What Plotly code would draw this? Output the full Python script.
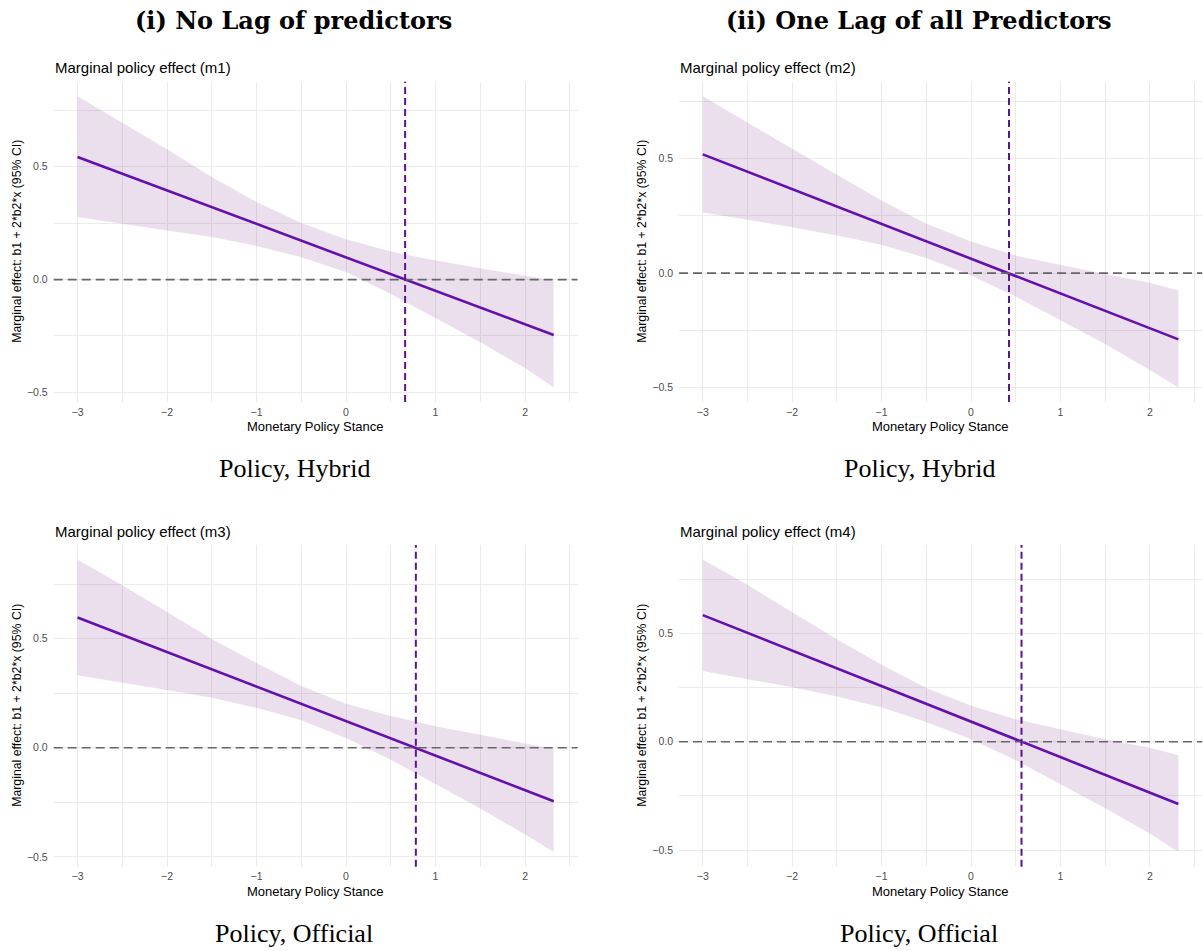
import plotly.graph_objects as go

W, H = 1203, 951

# ---------------- data ----------------
x_grid = [-3, -2.5, -2, -1.5, -1, -0.5, 0, 0.5, 1, 1.5, 2, 2.32]
x_line = [-3, 2.32]

m1_upper = [0.812, 0.694, 0.577, 0.454, 0.343, 0.250, 0.178, 0.124, 0.084, 0.050, 0.019, -0.004]
m1_lower = [0.277, 0.247, 0.217, 0.188, 0.149, 0.099, 0.033, -0.064, -0.170, -0.278, -0.392, -0.478]
m1_line = [0.543, -0.246]
m1_cross = 0.66

m2_upper = [0.773, 0.660, 0.544, 0.430, 0.318, 0.216, 0.138, 0.077, 0.036, -0.003, -0.042, -0.076]
m2_lower = [0.265, 0.233, 0.201, 0.165, 0.124, 0.066, -0.010, -0.102, -0.204, -0.309, -0.423, -0.499]
m2_line = [0.519, -0.289]
m2_cross = 0.425

m3_upper = [0.862, 0.745, 0.622, 0.498, 0.388, 0.283, 0.202, 0.145, 0.098, 0.060, 0.022, -0.005]
m3_lower = [0.332, 0.298, 0.265, 0.229, 0.183, 0.126, 0.045, -0.055, -0.166, -0.278, -0.397, -0.478]
m3_line = [0.597, -0.245]
m3_cross = 0.78

m4_upper = [0.840, 0.724, 0.597, 0.473, 0.355, 0.248, 0.166, 0.104, 0.057, 0.011, -0.028, -0.062]
m4_lower = [0.326, 0.290, 0.251, 0.209, 0.158, 0.091, 0.011, -0.085, -0.194, -0.307, -0.423, -0.509]
m4_line = [0.584, -0.287]
m4_cross = 0.565

panel_titles = ["Marginal policy effect (m1)", "Marginal policy effect (m2)",
                "Marginal policy effect (m3)", "Marginal policy effect (m4)"]
column_headers = ["(i) No Lag of predictors", "(ii) One Lag of all Predictors"]
row_captions = ["Policy, Hybrid", "Policy, Official"]
x_title = "Monetary Policy Stance"
y_title = "Marginal effect: b1 + 2*b2*x (95% CI)"
x_ticks = [-3, -2, -1, 0, 1, 2]
y_ticks = [-0.5, 0.0, 0.5]

# ---------------- styling ----------------
LINE_COL = "#6410AC"
VLINE_COL = "#5A1590"
BAND_COL = "rgba(120,40,140,0.15)"
GRID_COL = "#EBEBEB"
SANS = "Liberation Sans, Arial, sans-serif"
SERIF_B = "DejaVu Serif, serif"
SERIF = "Liberation Serif, serif"


def px(x):
    return x / W


def py(y):
    return 1 - y / H


# pixel boxes of each panel (left, right, top, bottom)
boxes = [
    (53.7, 577.5, 81.7, 402.0),
    (679.0, 1202.2, 81.7, 402.0),
    (53.7, 577.5, 545.0, 866.7),
    (679.0, 1202.2, 545.0, 866.7),
]
ylab_x = [17, 642, 17, 642]
xtitle_cx = [315.6, 940.9, 315.6, 940.9]

panels = [
    (m1_upper, m1_lower, m1_line, m1_cross),
    (m2_upper, m2_lower, m2_line, m2_cross),
    (m3_upper, m3_lower, m3_line, m3_cross),
    (m4_upper, m4_lower, m4_line, m4_cross),
]

fig = go.Figure()
annotations = []
shapes = []

xmin, xmax = min(x_grid), max(x_grid)
xpad = 0.05 * (xmax - xmin)
x_range = [xmin - xpad, xmax + xpad]

for i, (up, lo, ln, cross) in enumerate(panels):
    k = i + 1
    xa = "x" if k == 1 else f"x{k}"
    ya = "y" if k == 1 else f"y{k}"
    l, r, t, b = boxes[i]

    fig.add_trace(go.Scatter(
        x=x_grid + x_grid[::-1], y=up + lo[::-1],
        fill="toself", fillcolor=BAND_COL, line=dict(width=0),
        mode="lines", hoverinfo="skip", showlegend=False,
        xaxis=xa, yaxis=ya))
    fig.add_trace(go.Scatter(
        x=x_line, y=ln, mode="lines",
        line=dict(color=LINE_COL, width=2.6),
        showlegend=False, xaxis=xa, yaxis=ya))

    ymin, ymax = min(lo), max(up)
    ypad = 0.05 * (ymax - ymin)
    y_range = [ymin - ypad, ymax + ypad]

    axis_common = dict(
        showline=False, zeroline=False, showgrid=True,
        gridcolor=GRID_COL, gridwidth=1.1,
        tickfont=dict(family=SANS, size=10.5, color="#4D4D4D"),
        ticks="",
    )
    fig.layout[("xaxis" if k == 1 else f"xaxis{k}")] = dict(
        axis_common, domain=[px(l), px(r)], range=x_range,
        tickmode="array", tickvals=x_ticks, anchor=ya,
        minor=dict(dtick=0.5, tick0=-3, showgrid=True, gridcolor=GRID_COL, gridwidth=0.7),
        ticklabelstandoff=2,
    )
    fig.layout[("yaxis" if k == 1 else f"yaxis{k}")] = dict(
        axis_common, domain=[py(b), py(t)], range=y_range,
        tickmode="array", tickvals=y_ticks, ticktext=["\u22120.5", "0.0", "0.5"],
        anchor=xa,
        minor=dict(dtick=0.25, tick0=0, showgrid=True, gridcolor=GRID_COL, gridwidth=0.7),
        ticklabelstandoff=5,
    )

    # reference lines
    shapes.append(dict(type="line", xref=f"{xa} domain", yref=ya,
                       x0=0, x1=1, y0=0, y1=0,
                       line=dict(color="#666666", width=1.7, dash="9px,5px")))
    shapes.append(dict(type="line", xref=xa, yref=f"{ya} domain",
                       x0=cross, x1=cross, y0=0, y1=1,
                       line=dict(color=VLINE_COL, width=2, dash="7px,4px")))

    # panel title
    annotations.append(dict(text=panel_titles[i], xref="paper", yref="paper",
                            x=px(l - 1), y=py(t - 14), xanchor="left", yanchor="middle",
                            showarrow=False, font=dict(family=SANS, size=15, color="#000000")))
    # x title
    annotations.append(dict(text=x_title, xref="paper", yref="paper",
                            x=px(xtitle_cx[i]),
                            y=py(b + 24.5), xanchor="center", yanchor="middle",
                            showarrow=False, font=dict(family=SANS, size=13, color="#000000")))
    # y title
    annotations.append(dict(text=y_title, xref="paper", yref="paper",
                            x=px(ylab_x[i]), y=py((t + b) / 2), xanchor="center", yanchor="middle",
                            textangle=-90, showarrow=False,
                            font=dict(family=SANS, size=12.3, color="#000000")))

# column headers
for cx, txt in zip([293, 918], column_headers):
    annotations.append(dict(text=f"<b>{txt}</b>", xref="paper", yref="paper",
                            x=px(cx), y=py(21), xanchor="center", yanchor="middle",
                            showarrow=False, font=dict(family=SERIF_B, size=24, color="#000000")))
# row captions
for rr, cy in enumerate([468, 933]):
    for cx in [294, 919]:
        annotations.append(dict(text=row_captions[rr], xref="paper", yref="paper",
                                x=px(cx), y=py(cy), xanchor="center", yanchor="middle",
                                showarrow=False, font=dict(family=SERIF, size=26, color="#000000")))

fig.update_layout(
    width=W, height=H,
    margin=dict(l=0, r=0, t=0, b=0),
    paper_bgcolor="white", plot_bgcolor="white",
    showlegend=False,
    annotations=annotations,
    shapes=shapes,
)

fig.write_html("out.html", config={"displayModeBar": False},
               post_script="document.body.style.margin='0';document.body.style.overflow='hidden';")
